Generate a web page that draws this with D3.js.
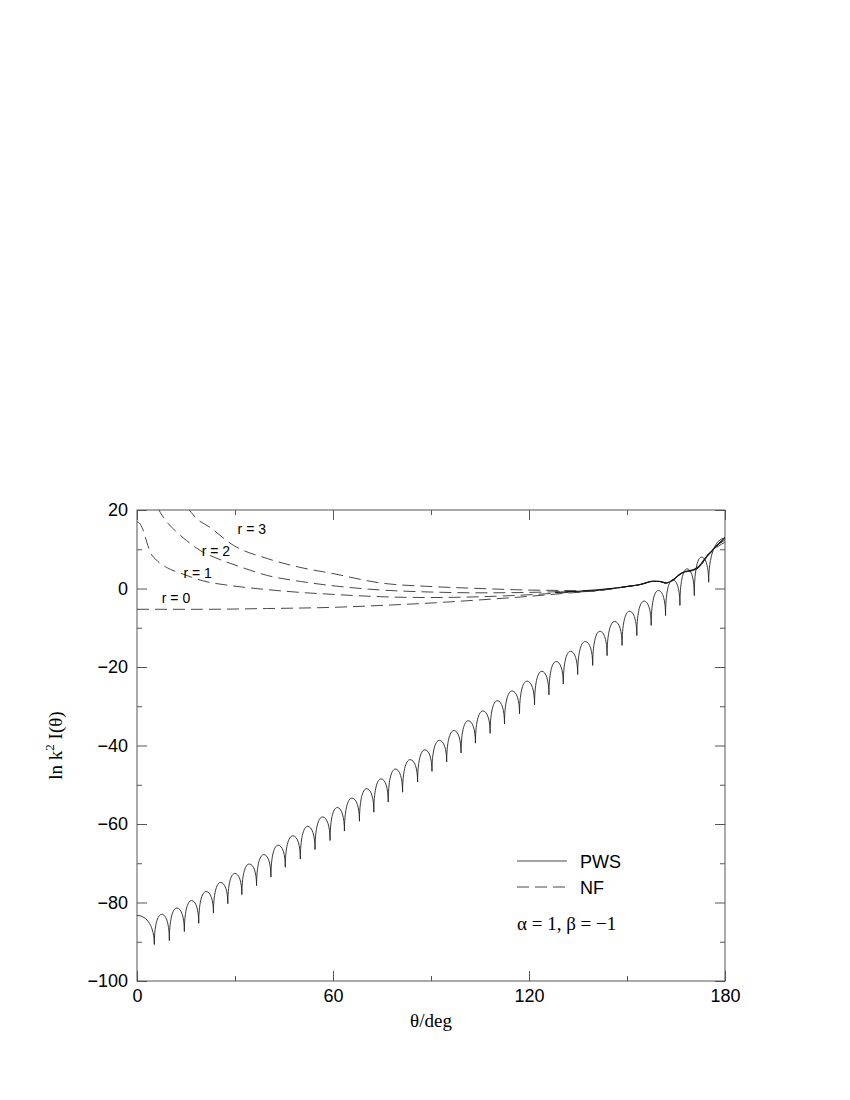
<!DOCTYPE html>
<html>
<head>
<meta charset="utf-8">
<script src="https://cdn.jsdelivr.net/npm/d3@7"></script>
<style>
  body { margin: 0; background: #fff; }
  svg { display: block; }
</style>
</head>
<body>
<svg id="chart" width="850" height="1100"></svg>
<script>
// ---------------- data ----------------
const xMajorTicks = [0, 60, 120, 180];
const xMinorTicks = [30, 90, 150];
const yMajorTicks = [20, 0, -20, -40, -60, -80, -100];
const yMinorTicks = [10, -10, -30, -50, -70, -90];

// PWS: arch tops and cusps (θ in degrees, value)
const pwsTopTheta = [0, 7.6, 12.2, 16.7, 21.15, 25.6, 29.95, 34.35, 38.8, 43.2,
  47.7, 52.25, 56.8, 61.3, 65.8, 70.3, 74.7, 79.1, 83.6, 88.1,
  92.55, 97, 101.4, 105.85, 110.3, 114.8, 119.4, 123.9, 128.3, 132.7,
  137.2, 141.7, 146.2, 150.75, 155.2, 159.6, 164, 168.4, 172.8, 180];
const pwsTopValue = [-83.3, -83.0, -81.4, -79.5, -77.2, -74.9, -72.6, -70.2, -67.8, -65.4,
  -63.0, -60.6, -58.2, -55.8, -53.4, -51.0, -48.5, -46.0, -43.6, -41.1,
  -38.7, -36.2, -33.7, -31.2, -28.6, -26.1, -23.6, -21.1, -18.6, -16.0,
  -13.5, -10.9, -8.4, -5.8, -3.2, -0.5, 2.2, 5.0, 8.0, 12.8];
const pwsCuspTheta = [5.3, 9.9, 14.5, 18.9, 23.4, 27.8, 32.1, 36.6, 41, 45.4,
  50, 54.5, 59.1, 63.5, 68.1, 72.5, 76.9, 81.3, 85.9, 90.3,
  94.8, 99.2, 103.6, 108.1, 112.5, 117.1, 121.7, 126.1, 130.5, 134.9,
  139.5, 143.9, 148.5, 153, 157.4, 161.8, 166.2, 170.6, 175];
const pwsCuspValue = [-90.7, -89.7, -87.4, -85.3, -82.7, -80.3, -78.0, -75.7, -73.5, -71.0,
  -68.9, -66.5, -64.2, -61.8, -59.3, -57.0, -54.4, -51.9, -49.3, -46.6,
  -44.2, -41.9, -39.4, -36.9, -34.5, -31.9, -29.6, -27.1, -24.3, -21.9,
  -19.6, -17.1, -14.5, -12.0, -9.4, -6.9, -4.3, -1.8, 1.6];

// smooth solid part near backward direction
const pwsSmoothTheta = [128, 135, 140, 145, 150, 154, 158, 160, 162, 164, 166, 168, 170, 172, 174, 176, 178, 180];
const pwsSmoothValue = [-1.0, -0.7, -0.4, 0.0, 0.5, 1.0, 1.9, 1.8, 1.4, 2.0, 3.6, 4.4, 4.7, 5.6, 7.8, 9.6, 11.3, 13.0];

// NF curves, r = 0..3
const nfR0Theta = [0, 20, 40, 60, 75, 90, 105, 120, 130, 140, 145, 150, 154, 158, 160, 162, 164, 167, 170, 172, 175, 178, 180];
const nfR0Value = [-5.3, -5.3, -5.1, -4.8, -4.3, -3.7, -2.9, -2.0, -1.3, -0.6, -0.1, 0.5, 1.0, 1.8, 1.8, 1.4, 2.2, 4.0, 4.6, 5.4, 8.6, 10.8, 11.8];
const nfR1Theta = [0, 1, 2, 3, 4, 6, 9, 14, 20, 30, 40, 50, 60, 75, 90, 105, 120, 130, 140, 145, 150, 154, 158, 160, 162, 164, 167, 170, 172, 175, 178, 180];
const nfR1Value = [17.0, 16.4, 14.6, 11.8, 9.4, 7.2, 5.4, 3.7, 2.0, 0.6, -0.3, -1.0, -1.5, -2.1, -2.3, -2.1, -1.6, -1.1, -0.6, -0.1, 0.5, 1.0, 1.8, 1.8, 1.4, 2.2, 4.0, 4.6, 5.4, 8.8, 11.2, 12.4];
const nfR2Theta = [6.3, 8, 11.1, 15.2, 19.3, 25, 30, 40, 50, 60, 75, 90, 105, 120, 130, 140, 145, 150, 154, 158, 160, 162, 164, 167, 170, 172, 175, 178, 180];
const nfR2Value = [20.6, 18.2, 15.2, 12.2, 9.7, 7.5, 6.0, 3.3, 1.8, 0.7, -0.4, -0.9, -1.1, -1.0, -0.8, -0.6, -0.1, 0.5, 1.0, 1.8, 1.8, 1.4, 2.2, 4.0, 4.6, 5.4, 8.8, 11.3, 12.6];
const nfR3Theta = [15.5, 18, 22.3, 29.5, 40, 49.8, 60, 74.6, 90, 105, 120, 130, 140, 145, 150, 154, 158, 160, 162, 164, 167, 170, 172, 175, 178, 180];
const nfR3Value = [20.6, 18.0, 15.6, 11.0, 7.6, 5.4, 3.8, 1.4, 0.5, 0.0, -0.4, -0.5, -0.6, -0.1, 0.5, 1.0, 1.8, 1.8, 1.4, 2.2, 4.0, 4.6, 5.4, 8.9, 11.4, 12.8];

const rLabels = ["r = 0", "r = 1", "r = 2", "r = 3"];
const rLabelTheta = [7.6, 14.2, 19.8, 30.8];
const rLabelValue = [-3.6, 2.8, 8.4, 14.0];

const legendNames = ["PWS", "NF"];
const paramText = "α = 1, β = −1";

// ---------------- layout ----------------
const svg = d3.select("#chart");
const L = 137, R = 725, T = 510, B = 981;
const x = d3.scaleLinear().domain([0, 180]).range([L, R]);
const y = d3.scaleLinear().domain([-100, 20]).range([B, T]);

const tickFont = "'Liberation Sans', Arial, Helvetica, sans-serif";
const serif = "'Liberation Serif', 'Times New Roman', Times, serif";
const axisColor = "#555";

svg.append("defs").append("clipPath").attr("id", "plotclip")
  .append("rect").attr("x", L).attr("y", T).attr("width", R - L).attr("height", B - T);

function styleAxis(g) {
  g.select(".domain").remove();
  g.selectAll(".tick line").attr("stroke", axisColor).attr("stroke-width", 1);
  g.selectAll(".tick text").attr("font-family", tickFont).attr("font-size", 18).attr("fill", "#000");
}

// bottom
svg.append("g").attr("transform", `translate(0,${B})`)
  .call(d3.axisBottom(x).tickValues(xMajorTicks).tickSize(-10).tickPadding(8).tickFormat(d3.format("d")))
  .call(styleAxis);
svg.append("g").attr("transform", `translate(0,${B})`)
  .call(d3.axisBottom(x).tickValues(xMinorTicks).tickSize(-5).tickFormat(""))
  .call(styleAxis);
// top
svg.append("g").attr("transform", `translate(0,${T})`)
  .call(d3.axisTop(x).tickValues(xMajorTicks).tickSize(-10).tickFormat(""))
  .call(styleAxis);
svg.append("g").attr("transform", `translate(0,${T})`)
  .call(d3.axisTop(x).tickValues(xMinorTicks).tickSize(-5).tickFormat(""))
  .call(styleAxis);
// left
const minusFmt = d => (d < 0 ? "\u2212" + Math.abs(d) : String(d));
svg.append("g").attr("transform", `translate(${L},0)`)
  .call(d3.axisLeft(y).tickValues(yMajorTicks).tickSize(-10).tickPadding(9).tickFormat(minusFmt))
  .call(styleAxis);
svg.append("g").attr("transform", `translate(${L},0)`)
  .call(d3.axisLeft(y).tickValues(yMinorTicks).tickSize(-5).tickFormat(""))
  .call(styleAxis);
// right
svg.append("g").attr("transform", `translate(${R},0)`)
  .call(d3.axisRight(y).tickValues(yMajorTicks).tickSize(-10).tickFormat(""))
  .call(styleAxis);
svg.append("g").attr("transform", `translate(${R},0)`)
  .call(d3.axisRight(y).tickValues(yMinorTicks).tickSize(-5).tickFormat(""))
  .call(styleAxis);

// frame
svg.append("rect").attr("x", L).attr("y", T).attr("width", R - L).attr("height", B - T)
  .attr("fill", "none").attr("stroke", axisColor).attr("stroke-width", 1);

const plot = svg.append("g").attr("clip-path", "url(#plotclip)");

// NF dashed curves
const lineGen = d3.line().x(d => x(d[0])).y(d => y(d[1])).curve(d3.curveMonotoneX);
const nfSets = [[nfR0Theta, nfR0Value], [nfR1Theta, nfR1Value], [nfR2Theta, nfR2Value], [nfR3Theta, nfR3Value]];
nfSets.forEach(([th, v]) => {
  plot.append("path").datum(th.map((t, i) => [t, v[i]]))
    .attr("d", lineGen).attr("fill", "none").attr("stroke", "#333")
    .attr("stroke-width", 0.9).attr("stroke-dasharray", "12,6");
});

// smooth solid
plot.append("path").datum(pwsSmoothTheta.map((t, i) => [t, pwsSmoothValue[i]]))
  .attr("d", lineGen).attr("fill", "none").attr("stroke", "#111").attr("stroke-width", 1.1);

// PWS arches: alternate top, cusp, top, ...
const seq = [];
pwsTopTheta.forEach((t, i) => {
  seq.push({ t, v: pwsTopValue[i], cusp: false });
  if (i < pwsCuspTheta.length) seq.push({ t: pwsCuspTheta[i], v: pwsCuspValue[i], cusp: true });
});
const k = 0.6;
const p = d3.path();
p.moveTo(x(seq[0].t), y(seq[0].v));
for (let i = 1; i < seq.length; i++) {
  const a = seq[i - 1], b = seq[i];
  const xa = x(a.t), ya = y(a.v), xb = x(b.t), yb = y(b.v);
  if (b.cusp) {
    // top -> cusp : horizontal at top, vertical at cusp
    p.bezierCurveTo(xa + k * (xb - xa), ya, xb, yb + k * (ya - yb), xb, yb);
  } else {
    // cusp -> top : vertical at cusp, horizontal at top
    p.bezierCurveTo(xa, ya + k * (yb - ya), xb - k * (xb - xa), yb, xb, yb);
  }
}
plot.append("path").attr("d", p.toString()).attr("fill", "none")
  .attr("stroke", "#222").attr("stroke-width", 0.9);

// r labels
svg.append("g").selectAll("text").data(rLabels).join("text")
  .attr("x", (d, i) => x(rLabelTheta[i])).attr("y", (d, i) => y(rLabelValue[i]))
  .attr("font-family", tickFont).attr("font-size", 14).attr("fill", "#000")
  .text(d => d);

// legend
const lg = svg.append("g");
lg.append("line").attr("x1", 517).attr("x2", 567).attr("y1", 861).attr("y2", 861)
  .attr("stroke", "#333").attr("stroke-width", 0.9);
lg.append("line").attr("x1", 517).attr("x2", 567).attr("y1", 887).attr("y2", 887)
  .attr("stroke", "#333").attr("stroke-width", 0.9).attr("stroke-dasharray", "12,6");
lg.selectAll("text").data(legendNames).join("text")
  .attr("x", 580).attr("y", (d, i) => 868 + i * 26)
  .attr("font-family", tickFont).attr("font-size", 18).text(d => d);
svg.append("text").attr("x", 517).attr("y", 930)
  .attr("font-family", serif).attr("font-size", 19).text(paramText);

// axis titles
svg.append("text").attr("x", (L + R) / 2).attr("y", 1027).attr("text-anchor", "middle")
  .attr("font-family", serif).attr("font-size", 19).text("θ/deg");
const yl = svg.append("text").attr("transform", `translate(62,${(T + B) / 2}) rotate(-90)`)
  .attr("text-anchor", "middle").attr("font-family", serif).attr("font-size", 19);
yl.append("tspan").text("ln k");
yl.append("tspan").attr("dy", -8).attr("font-size", 13).text("2");
yl.append("tspan").attr("dy", 8).text(" I(θ)");
</script>
</body>
</html>
